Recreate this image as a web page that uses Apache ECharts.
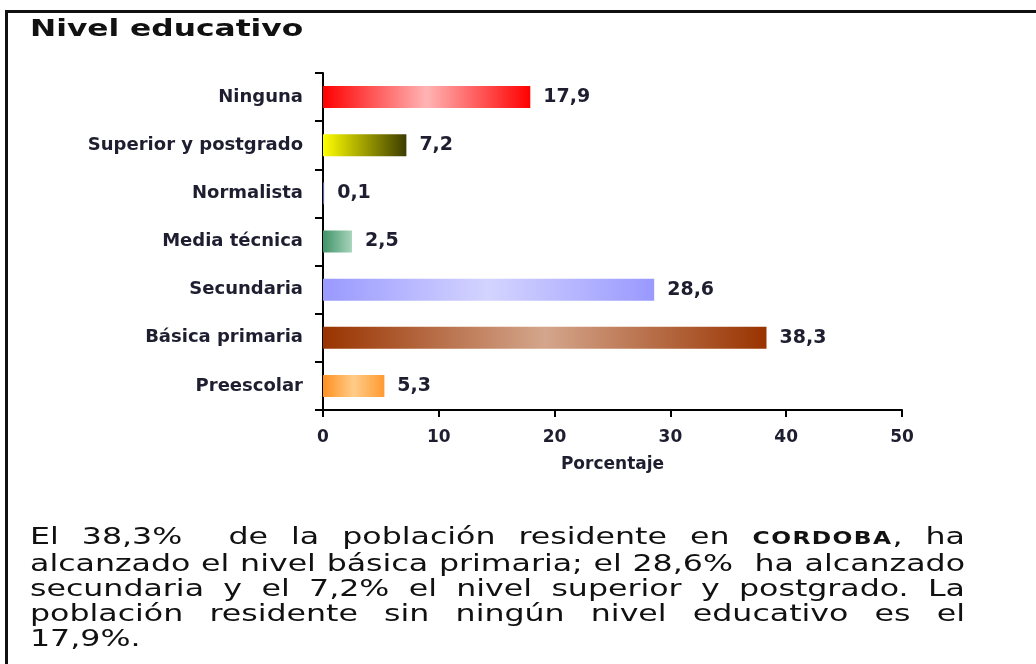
<!DOCTYPE html>
<html>
<head>
<meta charset="utf-8">
<script src="https://cdn.jsdelivr.net/npm/echarts@6/dist/echarts.min.js"></script>
<style>
    html, body { margin: 0; padding: 0; background: #fff; }
    #wrap { position: relative; width: 1036px; height: 664px; overflow: hidden; }
    #frame { position: absolute; left: 5px; top: 10px; right: -10px; bottom: -10px;
        border-top: 3px solid #111; border-left: 3px solid #111; }
    #chartDiv { position: absolute; left: 0; top: 0; width: 1036px; height: 664px; }
    #title { position: absolute; left: 30px; top: 13px; font-family: "DejaVu Sans", sans-serif;
        font-weight: bold; font-size: 23px; line-height: 30px; color: #111;
        transform: scaleX(1.36); transform-origin: left top; white-space: nowrap; }
    #conclusionText { position: absolute; left: 30px; top: 524px; width: 680px;
        font-family: "DejaVu Sans", sans-serif; font-size: 23px; line-height: 25px; color: #111;
        transform: scaleX(1.375); transform-origin: left top; }
    #conclusionText .ln { text-align: justify; text-align-last: justify; white-space: nowrap; }
    #conclusionText .ln.last { text-align: left; text-align-last: left; }
    #conclusionText b { font-size: 17px; letter-spacing: 1px; }
</style>
</head>
<body>
<div id="wrap">
    <div id="chartDiv"></div>
    <div id="frame"></div>
    <div id="title">Nivel educativo</div>
    <div id="conclusionText">
        <div class="ln">El 38,3%&nbsp; de la población residente en <b>CORDOBA</b>, ha</div>
        <div class="ln">alcanzado el nivel básica primaria; el 28,6%&nbsp; ha alcanzado</div>
        <div class="ln">secundaria y el 7,2% el nivel superior y postgrado. La</div>
        <div class="ln">población residente sin ningún nivel educativo es el</div>
        <div class="ln last">17,9%.</div>
    </div>
</div>
<script>
// categories, top to bottom
const categories = ['Ninguna', 'Superior y postgrado', 'Normalista', 'Media técnica', 'Secundaria', 'Básica primaria', 'Preescolar'];
const values = [17.9, 7.2, 0.1, 2.5, 28.6, 38.3, 5.3];
const xTicks = { min: 0, max: 50, interval: 10 };

// gradient fills per bar (left to right), Excel style
const barStops = [
    ['#ff0000', '#ffb4b4', '#ff0000'],
    ['#ffff00', '#3c3c00'],
    ['#333399', '#9999cc'],
    ['#3f9468', '#a8d4bc'],
    ['#9999ff', '#d4d4ff', '#9999ff'],
    ['#993300', '#d4a68c', '#993300'],
    ['#ff9020', '#ffcc88', '#ff9a30']
];

function makeGradient(stops) {
    return new echarts.graphic.LinearGradient(0, 0, 1, 0,
        stops.map((c, i) => ({ offset: stops.length > 1 ? i / (stops.length - 1) : 0, color: c })));
}

function formatComma(v) {
    return v.toFixed(1).replace('.', ',');
}

function renderChart() {
    const chartDom = document.getElementById('chartDiv');
    const myChart = echarts.init(chartDom, null, { renderer: 'canvas' });

    const labelFont = { fontFamily: 'DejaVu Sans', fontWeight: 'bold', color: '#1e1e30' };

    const option = {
        backgroundColor: 'transparent',
        animation: false,
        grid: { left: 323, right: 134, top: 73, bottom: 254 },
        xAxis: {
            type: 'value',
            min: xTicks.min,
            max: xTicks.max,
            interval: xTicks.interval,
            name: 'Porcentaje',
            nameLocation: 'middle',
            nameGap: 46,
            nameTextStyle: Object.assign({ fontSize: 17 }, labelFont),
            axisLine: { show: true, lineStyle: { color: '#000', width: 2 } },
            axisTick: { show: true, length: 7, lineStyle: { color: '#000', width: 2 } },
            axisLabel: Object.assign({ fontSize: 17, margin: 19 }, labelFont),
            splitLine: { show: false }
        },
        yAxis: {
            type: 'category',
            data: categories,
            inverse: true,
            axisLine: { show: true, lineStyle: { color: '#000', width: 2 } },
            axisTick: { show: true, length: 8, lineStyle: { color: '#000', width: 2 } },
            axisLabel: Object.assign({ fontSize: 18, margin: 20 }, labelFont),
            splitLine: { show: false }
        },
        series: [{
            type: 'bar',
            barWidth: 22,
            data: values.map((v, i) => ({
                value: v,
                itemStyle: { color: makeGradient(barStops[i]) }
            })),
            label: Object.assign({
                show: true,
                position: 'right',
                distance: 13,
                fontSize: 19,
                formatter: p => formatComma(p.value)
            }, labelFont)
        }]
    };

    myChart.setOption(option);
}

renderChart();
</script>
</body>
</html>
